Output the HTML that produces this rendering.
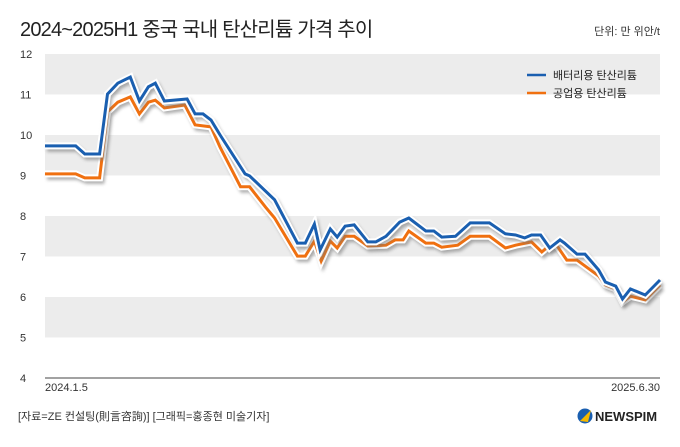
<!DOCTYPE html>
<html><head><meta charset="utf-8">
<style>
body{margin:0;background:#fff;}
svg text{font-family:"Liberation Sans","Noto Sans CJK KR",sans-serif;}
</style></head>
<body>
<svg width="680" height="442" viewBox="0 0 680 442">
<defs>
<filter id="sh" x="-5%" y="-5%" width="110%" height="120%"><feGaussianBlur stdDeviation="1.5"/></filter>
</defs>
<text x="20" y="36" font-size="20" fill="#222" letter-spacing="-0.8">2024~2025H1 중국 국내 탄산리튬 가격 추이</text>
<text x="660" y="35" font-size="11" fill="#333" text-anchor="end">단위: 만 위안/t</text>
<g id="bands"></g>
<g id="yticks"></g>
<line x1="45" y1="378" x2="660" y2="378" stroke="#444" stroke-width="1"/>
<text x="45" y="391" font-size="11" fill="#333">2024.1.5</text>
<text x="660" y="391" font-size="11" fill="#333" text-anchor="end">2025.6.30</text>
<g id="series"></g>
<g>
<line x1="527" y1="75" x2="546" y2="75" stroke="#1a5fb0" stroke-width="2.5"/>
<text x="553" y="79" font-size="11" fill="#222">배터리용 탄산리튬</text>
<line x1="527" y1="93" x2="546" y2="93" stroke="#f07010" stroke-width="2.5"/>
<text x="553" y="97" font-size="11" fill="#222">공업용 탄산리튬</text>
</g>
<text x="18" y="420" font-size="11" fill="#333">[자료=ZE 컨설팅(則言咨詢)] [그래픽=홍종현 미술기자]</text>
<g>
<circle cx="585" cy="416" r="7.5" fill="#1a5fb0"/>
<path d="M580 421 L591 410 L588 422 Z" fill="#f5b800"/>
<text x="595" y="421" font-size="13" font-weight="bold" fill="#222">NEWSPIM</text>
</g>
</svg>
<script>
const yTicks=[4,5,6,7,8,9,10,11,12];
const blueDays=[0,27,35,48,55,64,75,83,91,97,105,125,132,139,146,154,176,180,202,222,229,237,242,251,257,264,272,284,291,300,312,320,335,342,349,361,374,391,405,414,422,428,436,444,453,457,468,475,487,493,502,508,515,528,541];
const blueVals=[9.73,9.73,9.53,9.53,11.01,11.28,11.43,10.84,11.19,11.28,10.84,10.89,10.52,10.52,10.37,10.0,9.04,8.99,8.40,7.33,7.33,7.80,7.16,7.68,7.48,7.75,7.78,7.36,7.36,7.5,7.85,7.95,7.63,7.63,7.48,7.5,7.83,7.83,7.56,7.53,7.46,7.53,7.53,7.21,7.41,7.33,7.06,7.06,6.67,6.37,6.27,5.95,6.2,6.05,6.42];
const orangeDays=[0,27,35,48,55,64,75,83,91,97,105,123,132,146,154,172,180,194,202,222,229,237,243,251,257,264,272,284,300,308,315,320,335,342,349,363,374,391,405,414,428,437,444,450,459,468,487,493,502,508,515,528,541];
const orangeVals=[9.04,9.04,8.94,8.94,10.57,10.81,10.94,10.52,10.81,10.86,10.67,10.74,10.25,10.2,9.70,8.72,8.72,8.22,7.95,7.01,7.01,7.38,6.89,7.38,7.21,7.5,7.5,7.26,7.28,7.41,7.41,7.63,7.33,7.33,7.23,7.28,7.5,7.5,7.21,7.28,7.36,7.11,7.28,7.28,6.91,6.91,6.52,6.30,6.2,5.88,6.02,5.93,6.30];
const X0=45,X1=660,Y0=378,Y1=54,DMAX=541,VMIN=4,VMAX=12;
const xs=d=>X0+(d/DMAX)*(X1-X0);
const ys=v=>Y0-(v-VMIN)/(VMAX-VMIN)*(Y0-Y1);
const NS="http://www.w3.org/2000/svg";
const bands=document.getElementById('bands');
for(let v=5;v<12;v+=2){
 const r=document.createElementNS(NS,'rect');
 r.setAttribute('x',X0);r.setAttribute('y',ys(v+1));r.setAttribute('width',X1-X0);r.setAttribute('height',ys(v)-ys(v+1));r.setAttribute('fill','#ececec');
 
 
 bands.appendChild(r);
}
const yt=document.getElementById('yticks');
yTicks.forEach(v=>{
 const t=document.createElementNS(NS,'text');
 t.setAttribute('x',20);t.setAttribute('y',ys(v)+4);t.setAttribute('font-size','11');t.setAttribute('fill','#333');
 t.textContent=v;
 
 
 yt.appendChild(t);
});
const sg=document.getElementById('series');
function draw(days,vals,color,name){
 const pts=days.map((d,i)=>xs(d).toFixed(1)+','+ys(vals[i]).toFixed(1)).join(' ');
 const g=document.createElementNS(NS,'g');
 
 
 [['#777',6,'translate(2,3)',true],['#fff',7,'',false],[color,3,'',false]].forEach(([c,w,tr,blur])=>{
  const p=document.createElementNS(NS,'polyline');
  p.setAttribute('points',pts);p.setAttribute('fill','none');p.setAttribute('stroke',c);p.setAttribute('stroke-width',w);
  p.setAttribute('stroke-linejoin','miter');
  if(tr)p.setAttribute('transform',tr);
  if(blur){p.setAttribute('filter','url(#sh)');p.setAttribute('opacity','0.6');}
  g.appendChild(p);
 });
 sg.appendChild(g);
}
draw(orangeDays,orangeVals,'#f07010','industrial-series');
draw(blueDays,blueVals,'#1a5fb0','battery-series');
</script>
</body></html>
